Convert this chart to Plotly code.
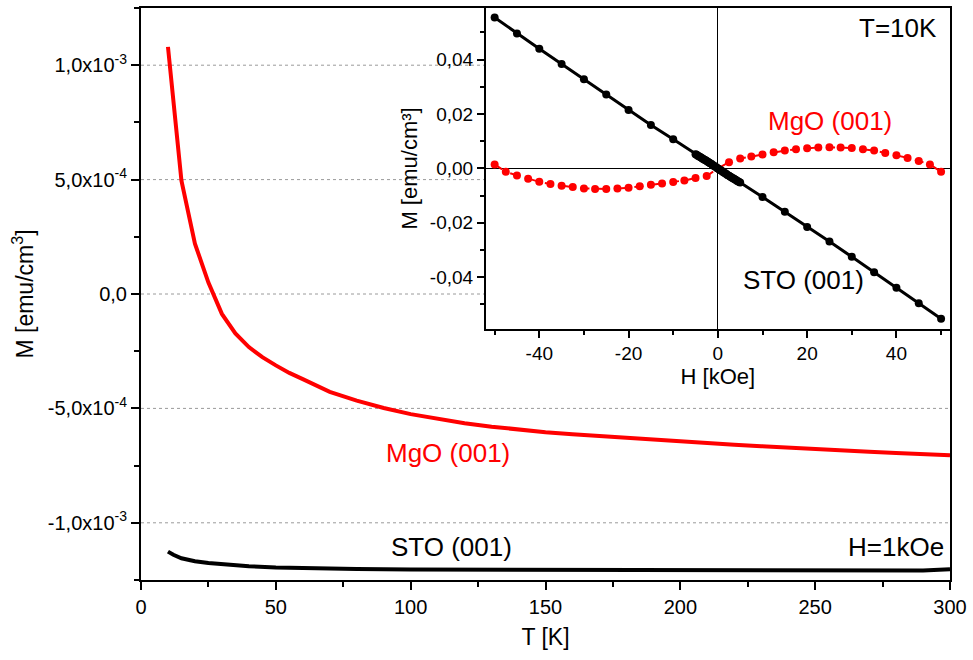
import plotly.graph_objects as go

# ---------------- main panel data: M(T) at H = 1 kOe ----------------
T_mgo = [10, 15, 20, 25, 30, 35, 40, 45, 50, 55, 60, 70, 80, 90, 100, 110, 120, 130,
         140, 150, 160, 170, 180, 190, 200, 210, 220, 230, 240, 250, 260, 270, 280, 290, 300]
M_mgo = [1.08e-3, 4.95e-4, 2.2e-4, 5.0e-5, -8.7e-5, -1.72e-4, -2.32e-4, -2.76e-4, -3.12e-4,
         -3.45e-4, -3.72e-4, -4.28e-4, -4.66e-4, -4.98e-4, -5.25e-4, -5.47e-4, -5.65e-4,
         -5.8e-4, -5.93e-4, -6.04e-4, -6.13e-4, -6.21e-4, -6.3e-4, -6.37e-4, -6.45e-4,
         -6.52e-4, -6.59e-4, -6.65e-4, -6.72e-4, -6.79e-4, -6.85e-4, -6.9e-4, -6.95e-4,
         -7.0e-4, -7.05e-4]

T_sto = [10, 12, 15, 20, 25, 30, 40, 50, 60, 80, 100, 120, 150, 180, 200, 220, 250, 270, 290, 300]
M_sto = [-1.126e-3, -1.14e-3, -1.155e-3, -1.168e-3, -1.176e-3, -1.182e-3, -1.19e-3, -1.195e-3,
         -1.198e-3, -1.202e-3, -1.204e-3, -1.205e-3, -1.206e-3, -1.207e-3, -1.208e-3,
         -1.209e-3, -1.211e-3, -1.211e-3, -1.209e-3, -1.203e-3]

# ---------------- inset data: M(H) at T = 10 K ----------------
H_mgo = [-50, -47.5, -45, -42.5, -40, -37.5, -35, -32.5, -30, -27.5, -25, -22.5, -20, -17.5,
         -15, -12.5, -10, -7.5, -5, -2.5, 0, 2.5, 5, 7.5, 10, 12.5, 15, 17.5, 20, 22.5, 25,
         27.5, 30, 32.5, 35, 37.5, 40, 42.5, 45, 47.5, 50]
Mi_mgo = [0.00147, -0.00125, -0.00256, -0.00381, -0.00491, -0.00575, -0.00637, -0.00685,
          -0.00733, -0.00758, -0.00758, -0.00733, -0.00711, -0.00659, -0.00601, -0.00549,
          -0.00502, -0.0044, -0.00355, -0.00282, 0.0, 0.0023, 0.00366, 0.0044, 0.00513,
          0.00597, 0.00659, 0.00707, 0.00744, 0.00769, 0.0078, 0.00769, 0.00755, 0.00707,
          0.00659, 0.00571, 0.00487, 0.00388, 0.00278, 0.00147, -0.00125]

H_sto = [-50, -45, -40, -35, -30, -25, -20, -15, -10,
         -5, -4.75, -4.5, -4.25, -4, -3.75, -3.5, -3.25, -3, -2.75, -2.5, -2.25, -2, -1.75,
         -1.5, -1.25, -1, -0.75, -0.5, -0.25, 0, 0.25, 0.5, 0.75, 1, 1.25, 1.5, 1.75, 2,
         2.25, 2.5, 2.75, 3, 3.25, 3.5, 3.75, 4, 4.25, 4.5, 4.75, 5,
         10, 15, 20, 25, 30, 35, 40, 45, 50]
Mi_sto = [0.0555, 0.0496, 0.0440, 0.0384, 0.0328, 0.0272, 0.0215, 0.0160, 0.0107,
          0.0052, 0.0050, 0.0047, 0.0045, 0.0042, 0.0040, 0.0037, 0.0035, 0.0032, 0.0030,
          0.0027, 0.0025, 0.0022, 0.0019, 0.0017, 0.0014, 0.0011, 0.0008, 0.0006, 0.0003,
          0.0, -0.0003, -0.0006, -0.0008, -0.0011, -0.0014, -0.0017, -0.0019, -0.0022,
          -0.0025, -0.0027, -0.0030, -0.0032, -0.0035, -0.0037, -0.0040, -0.0042, -0.0045,
          -0.0047, -0.0050, -0.0052,
          -0.0105, -0.0159, -0.0215, -0.0269, -0.0325, -0.0382, -0.0439, -0.0496, -0.0553]

# tick labels
main_y_vals = [-1e-3, -5e-4, 0, 5e-4, 1e-3]
main_y_text = ["-1,0x10<sup>-3</sup>", "-5,0x10<sup>-4</sup>", "0,0",
               "5,0x10<sup>-4</sup>", "1,0x10<sup>-3</sup>"]
inset_x_vals = [-40, -20, 0, 20, 40]
inset_x_text = ["-40", "-20", "0", "20", "40"]
inset_y_vals = [-0.04, -0.02, 0.0, 0.02, 0.04]
inset_y_text = ["-0,04", "-0,02", "0,00", "0,02", "0,04"]

FONT = "Liberation Sans, Arial, sans-serif"
RED = "#ff0000"

fig = go.Figure()

fig.add_trace(go.Scatter(x=T_mgo, y=M_mgo, mode="lines", line=dict(color=RED, width=4),
                         xaxis="x", yaxis="y", showlegend=False))
fig.add_trace(go.Scatter(x=T_sto, y=M_sto, mode="lines", line=dict(color="black", width=4),
                         xaxis="x", yaxis="y", showlegend=False))

fig.add_trace(go.Scatter(x=H_mgo, y=Mi_mgo, mode="lines+markers",
                         line=dict(color=RED, width=2, dash="dash"),
                         marker=dict(color=RED, size=8),
                         xaxis="x2", yaxis="y2", showlegend=False))
fig.add_trace(go.Scatter(x=H_sto, y=Mi_sto, mode="lines+markers",
                         line=dict(color="black", width=3),
                         marker=dict(color="black", size=8),
                         xaxis="x2", yaxis="y2", showlegend=False))

inset_left = 0.4261
inset_bottom = 0.439

# dotted grid lines of the main panel (stop at the inset frame)
shapes = []
for v in main_y_vals:
    x1 = inset_left if v >= 0 else 1.0
    shapes.append(dict(type="line", xref="paper", yref="y", x0=0, x1=x1, y0=v, y1=v,
                       line=dict(color="#9a9a9a", width=1, dash="dot"), layer="below"))

annotations = [
    dict(text="MgO (001)", x=114, y=-6.94e-4, xref="x", yref="y", showarrow=False,
         font=dict(size=26, color=RED, family=FONT)),
    dict(text="STO (001)", x=115, y=-1.107e-3, xref="x", yref="y", showarrow=False,
         font=dict(size=26, color="black", family=FONT)),
    dict(text="H=1kOe", x=298.5, y=-1.107e-3, xref="x", yref="y", showarrow=False,
         xanchor="right", font=dict(size=26, color="black", family=FONT)),
    dict(text="T=10K", x=49.6, y=0.0515, xref="x2", yref="y2", showarrow=False,
         xanchor="right", font=dict(size=26, color="black", family=FONT)),
    dict(text="MgO (001)", x=25.1, y=0.0173, xref="x2", yref="y2", showarrow=False,
         font=dict(size=26, color=RED, family=FONT)),
    dict(text="STO (001)", x=19.2, y=-0.0411, xref="x2", yref="y2", showarrow=False,
         font=dict(size=26, color="black", family=FONT)),
]

fig.update_layout(
    width=973, height=660,
    margin=dict(l=141, r=20, t=6, b=80),
    paper_bgcolor="white", plot_bgcolor="white",
    font=dict(family=FONT, color="black", size=20),
    shapes=shapes,
    annotations=annotations,
    xaxis=dict(
        domain=[0, 1], range=[0, 300], tickmode="linear", tick0=0, dtick=50,
        ticks="outside", ticklen=8, tickwidth=2, tickcolor="black",
        minor=dict(ticks="outside", dtick=25, tick0=0, ticklen=5, tickwidth=2, tickcolor="black"),
        showline=True, linewidth=2, linecolor="black", mirror=True,
        showgrid=False, zeroline=False,
        tickfont=dict(size=20),
        title=dict(text="T [K]", font=dict(size=23), standoff=12),
    ),
    yaxis=dict(
        domain=[0, 1], range=[-1.25e-3, 1.25e-3], tickmode="array",
        tickvals=main_y_vals, ticktext=main_y_text,
        ticks="outside", ticklen=8, tickwidth=2, tickcolor="black",
        minor=dict(ticks="outside", dtick=2.5e-4, tick0=0, ticklen=5, tickwidth=2, tickcolor="black"),
        showline=True, linewidth=2, linecolor="black", mirror=True,
        showgrid=False, zeroline=False,
        tickfont=dict(size=20),
        title=dict(text="M [emu/cm<sup>3</sup>]", font=dict(size=23), standoff=8),
    ),
    xaxis2=dict(
        domain=[inset_left, 1], anchor="y2", range=[-52, 52], tickmode="array",
        tickvals=inset_x_vals, ticktext=inset_x_text,
        ticks="outside", ticklen=7, tickwidth=1.5, tickcolor="black",
        minor=dict(ticks="outside", dtick=10, tick0=0, ticklen=4, tickwidth=1.5, tickcolor="black"),
        showline=True, linewidth=1.5, linecolor="black", mirror=True,
        showgrid=False, zeroline=True, zerolinecolor="black", zerolinewidth=1,
        tickfont=dict(size=19),
        title=dict(text="H [kOe]", font=dict(size=22), standoff=4),
    ),
    yaxis2=dict(
        domain=[inset_bottom, 1], anchor="x2", range=[-0.059, 0.059], tickmode="array",
        tickvals=inset_y_vals, ticktext=inset_y_text,
        ticks="outside", ticklen=7, tickwidth=1.5, tickcolor="black",
        minor=dict(ticks="outside", dtick=0.01, tick0=0, ticklen=4, tickwidth=1.5, tickcolor="black"),
        showline=True, linewidth=1.5, linecolor="black", mirror=True,
        showgrid=False, zeroline=True, zerolinecolor="black", zerolinewidth=1,
        tickfont=dict(size=19),
        title=dict(text="M [emu/cm³]", font=dict(size=22), standoff=6),
    ),
)

fig.write_html("out.html")
